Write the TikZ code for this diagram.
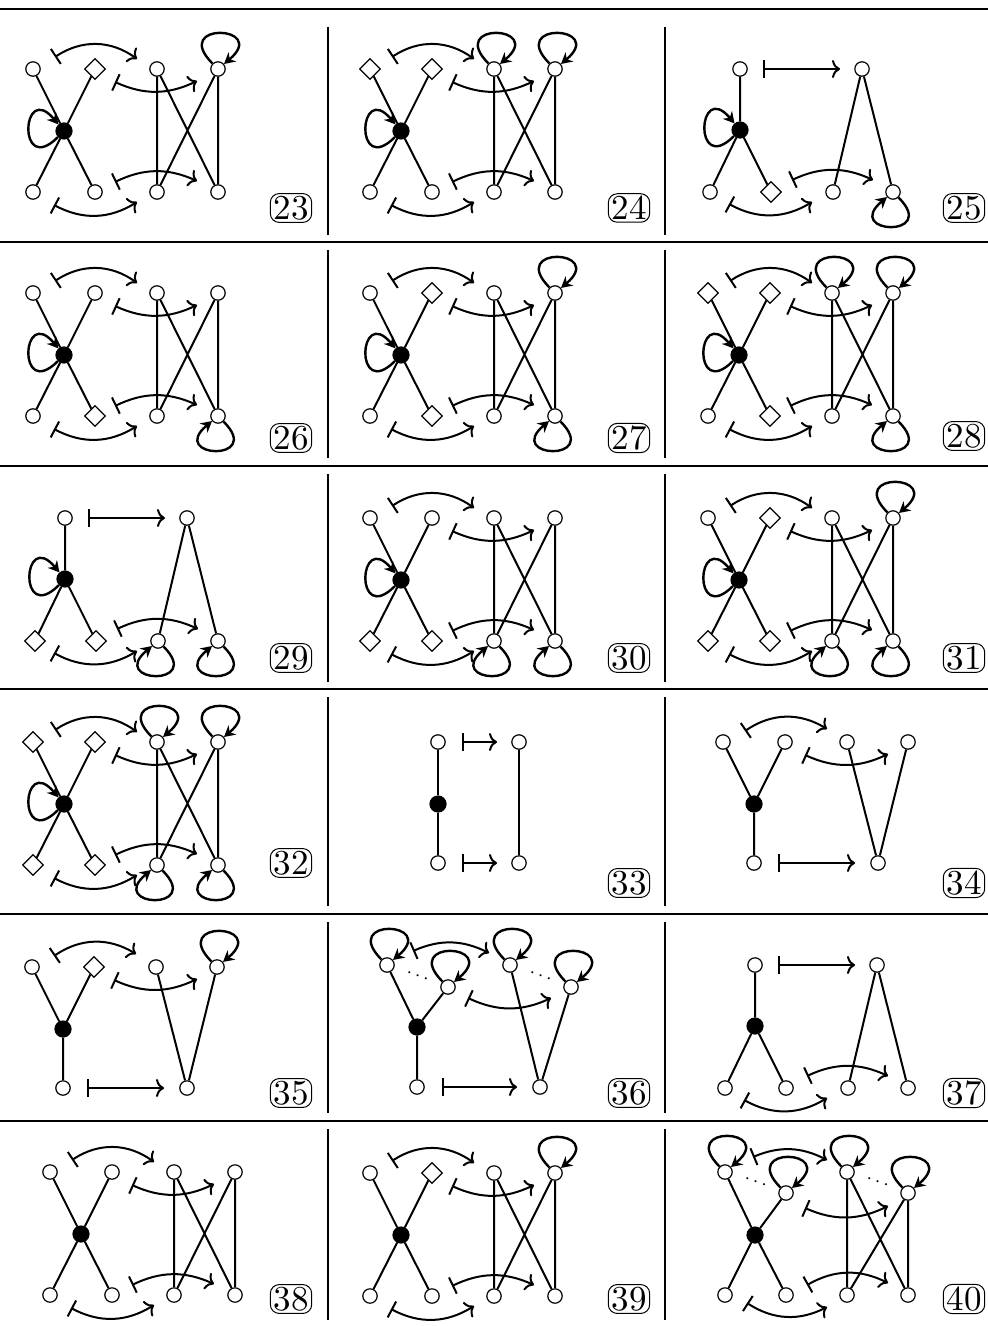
\documentclass[tikz,border=0pt]{standalone}
\usepackage{graphicx}
\usepackage{tikz}
\usetikzlibrary{arrows.meta,shapes.geometric}
\tikzset{
  vx/.style={circle,draw,fill=white,line width=0.6pt,minimum size=7.2pt,inner sep=0pt},
  bk/.style={circle,draw,fill=black,line width=0.6pt,minimum size=8pt,inner sep=0pt},
  dm/.style={diamond,draw,fill=white,line width=0.6pt,minimum size=10.5pt,inner sep=0pt},
  ed/.style={line width=1pt},
  mt/.style={line width=1pt,{Bar[width=9pt]}-{Computer Modern Rightarrow[length=4pt,width=9pt]}},
  lp/.style={line width=1.2pt,-{Stealth[length=5.5pt,width=6pt]}},
  lpw/.style={out=225,in=130,min distance=29pt},
  lpn/.style={out=135,in=40,min distance=30pt},
  lps/.style={out=-45,in=-140,min distance=29pt},
  ell/.style={inner sep=0pt,font=\normalsize},
  num/.style={draw,rounded corners=4.5pt,line width=0.5pt,inner xsep=1.6pt,inner ysep=1.2pt},
  rule/.style={line width=1.3pt},
}
\newcommand{\nm}[1]{\scalebox{1.75}{#1}}
% two X-shaped halves, left outer vertices given by style
\newcommand{\Xgraph}[4]{%
  \node[#1] (a) at (0,0) {};
  \node[#2] (b) at (62,0) {};
  \node[bk] (c) at (31,-62) {};
  \node[#3] (d) at (0,-123) {};
  \node[#4] (e) at (62,-123) {};
  \node[vx] (f) at (124,0) {};
  \node[vx] (g) at (185,0) {};
  \node[vx] (h) at (124,-123) {};
  \node[vx] (i) at (185,-123) {};
  \draw[ed] (a) -- (c) -- (e) (b) -- (c) -- (d) (f) -- (h) -- (g) -- (i) -- (f);
  \draw[mt] ([shift={(22,12)}]a.center) to[bend left=35] ([shift={(-20,10)}]f.center);
  \draw[mt] ([shift={(20,-13)}]b.center) to[bend right=25] ([shift={(-21,-12)}]g.center);
  \draw[mt] ([shift={(20,10)}]e.center) to[bend left=25] ([shift={(-21,11)}]i.center);
  \draw[mt] ([shift={(21,-13)}]d.center) to[bend right=30] ([shift={(-20,-10)}]h.center);
}
% one vertex on top, two below
\newcommand{\Ygraph}[2]{%
  \node[vx] (t) at (30,0) {};
  \node[bk] (c) at (30,-61) {};
  \node[#1] (d) at (0,-123) {};
  \node[#2] (e) at (61,-123) {};
  \node[vx] (u) at (152,0) {};
  \node[vx] (h) at (123,-123) {};
  \node[vx] (i) at (183,-123) {};
  \draw[ed] (t) -- (c) -- (d) (c) -- (e) (h) -- (u) -- (i);
  \draw[mt] ([xshift=11.5pt]t.center) -- ([xshift=-11pt]u.center);
  \draw[mt] ([shift={(21,12)}]e.center) to[bend left=25] ([shift={(-20,12)}]i.center);
  \draw[mt] ([shift={(19,-12)}]d.center) to[bend right=30] ([shift={(-21,-10)}]h.center);
}
% two vertices on top, one below
\newcommand{\Vgraph}[1]{%
  \node[vx] (a) at (0,0) {};
  \node[#1] (b) at (62,0) {};
  \node[bk] (c) at (31,-62) {};
  \node[vx] (d) at (31,-121) {};
  \node[vx] (f) at (124,0) {};
  \node[vx] (g) at (185,0) {};
  \node[vx] (h) at (155,-121) {};
  \draw[ed] (a) -- (c) -- (d) (b) -- (c) (f) -- (h) -- (g);
  \draw[mt] ([shift={(22,11)}]a.center) to[bend left=33] ([shift={(-20,13)}]f.center);
  \draw[mt] ([shift={(20,-13)}]b.center) to[bend right=25] ([shift={(-20,-12)}]g.center);
  \draw[mt] ([xshift=12pt]d.center) -- ([xshift=-11.5pt]h.center);
}

\begin{document}
\begin{tikzpicture}[x=0.5pt,y=0.5pt]
  \useasboundingbox (0,0) rectangle (988,-1326);
  \fill[white] (0,0) rectangle (988,-1326);
  \foreach \y in {9,242,466,689,914,1121} \draw[rule] (0,-\y) -- (988,-\y);
  \foreach \t/\b in {27/235,250/458,474/682,697/906,922/1113,1129/1320}
    \draw[rule] (328,-\t) -- (328,-\b) (665,-\t) -- (665,-\b);

  % 23
  \begin{scope}[shift={(33,-69)}]
    \Xgraph{vx}{dm}{vx}{vx}
    \draw[lp] (c) to[lpw] (c);
    \draw[lp] (g) to[lpn] (g);
  \end{scope}
  \node[num] (n23) at (291,-208) {\nm{23}};
  % 24
  \begin{scope}[shift={(370,-69)}]
    \Xgraph{dm}{dm}{vx}{vx}
    \draw[lp] (c) to[lpw] (c);
    \draw[lp] (f) to[lpn] (f);
    \draw[lp] (g) to[lpn] (g);
  \end{scope}
  \node[num] (n24) at (629,-208) {\nm{24}};
  % 25
  \begin{scope}[shift={(710,-69)}]
    \Ygraph{vx}{dm}
    \draw[lp] (c) to[lpw] (c);
    \draw[lp] (i) to[lps] (i);
  \end{scope}
  \node[num] (n25) at (964,-208) {\nm{25}};

  % 26
  \begin{scope}[shift={(33,-293)}]
    \Xgraph{vx}{vx}{vx}{dm}
    \draw[lp] (c) to[lpw] (c);
    \draw[lp] (i) to[lps] (i);
  \end{scope}
  \node[num] (n26) at (291,-438) {\nm{26}};
  % 27
  \begin{scope}[shift={(370,-293)}]
    \Xgraph{vx}{dm}{vx}{dm}
    \draw[lp] (c) to[lpw] (c);
    \draw[lp] (g) to[lpn] (g);
    \draw[lp] (i) to[lps] (i);
  \end{scope}
  \node[num] (n27) at (629,-438) {\nm{27}};
  % 28
  \begin{scope}[shift={(708,-293)}]
    \Xgraph{dm}{dm}{vx}{dm}
    \draw[lp] (c) to[lpw] (c);
    \draw[lp] (f) to[lpn] (f);
    \draw[lp] (g) to[lpn] (g);
    \draw[lp] (i) to[lps] (i);
  \end{scope}
  \node[num] (n28) at (964,-436) {\nm{28}};

  % 29
  \begin{scope}[shift={(35,-518)}]
    \Ygraph{dm}{dm}
    \draw[lp] (c) to[lpw] (c);
    \draw[lp] (h) to[lps] (h);
    \draw[lp] (i) to[lps] (i);
  \end{scope}
  \node[num] (n29) at (291,-658) {\nm{29}};
  % 30
  \begin{scope}[shift={(370,-518)}]
    \Xgraph{vx}{vx}{dm}{dm}
    \draw[lp] (c) to[lpw] (c);
    \draw[lp] (h) to[lps] (h);
    \draw[lp] (i) to[lps] (i);
  \end{scope}
  \node[num] (n30) at (629,-658) {\nm{30}};
  % 31
  \begin{scope}[shift={(708,-518)}]
    \Xgraph{vx}{dm}{dm}{dm}
    \draw[lp] (c) to[lpw] (c);
    \draw[lp] (g) to[lpn] (g);
    \draw[lp] (h) to[lps] (h);
    \draw[lp] (i) to[lps] (i);
  \end{scope}
  \node[num] (n31) at (964,-658) {\nm{31}};

  % 32
  \begin{scope}[shift={(33,-742)}]
    \Xgraph{dm}{dm}{dm}{dm}
    \draw[lp] (c) to[lpw] (c);
    \draw[lp] (f) to[lpn] (f);
    \draw[lp] (g) to[lpn] (g);
    \draw[lp] (h) to[lps] (h);
    \draw[lp] (i) to[lps] (i);
  \end{scope}
  \node[num] (n32) at (291,-863) {\nm{32}};
  % 33
  \begin{scope}[shift={(438,-742)}]
    \node[vx] (t) at (0,0) {};
    \node[bk] (c) at (0,-62) {};
    \node[vx] (d) at (0,-121) {};
    \node[vx] (u) at (81,0) {};
    \node[vx] (h) at (81,-121) {};
    \draw[ed] (t) -- (c) -- (d) (u) -- (h);
    \draw[mt] ([xshift=12pt]t.center) -- ([xshift=-11pt]u.center);
    \draw[mt] ([xshift=12pt]d.center) -- ([xshift=-11pt]h.center);
  \end{scope}
  \node[num] (n33) at (629,-883) {\nm{33}};
  % 34
  \begin{scope}[shift={(723,-742)}]
    \Vgraph{vx}
  \end{scope}
  \node[num] (n34) at (964,-883) {\nm{34}};

  % 35
  \begin{scope}[shift={(32,-967)}]
    \Vgraph{dm}
    \draw[lp] (g) to[lpn] (g);
  \end{scope}
  \node[num] (n35) at (291,-1093) {\nm{35}};
  % 36
  \begin{scope}[shift={(387,-965)}]
    \node[vx] (a) at (0,0) {};
    \node[vx] (b) at (61,-22) {};
    \node[bk] (c) at (30,-62) {};
    \node[vx] (d) at (30,-122) {};
    \node[vx] (f) at (123,0) {};
    \node[vx] (g) at (184,-22) {};
    \node[vx] (h) at (153,-122) {};
    \draw[ed] (a) -- (c) -- (d) (b) -- (c) (f) -- (h) -- (g);
    \path (a) -- node[ell,sloped] {$\cdots$} (b) (f) -- node[ell,sloped] {$\cdots$} (g);
    \foreach \v in {a,b,f,g} \draw[lp] (\v) to[lpn] (\v);
    \draw[mt] ([shift={(26,14)}]a.center) to[bend left=25] ([shift={(-21,12)}]f.center);
    \draw[mt] ([shift={(20,-11)}]b.center) to[bend right=25] ([shift={(-20,-11)}]g.center);
    \draw[mt] ([xshift=12.5pt]d.center) -- ([xshift=-11.5pt]h.center);
  \end{scope}
  \node[num] (n36) at (629,-1093) {\nm{36}};
  % 37
  \begin{scope}[shift={(725,-965)}]
    \Ygraph{vx}{vx}
  \end{scope}
  \node[num] (n37) at (964,-1093) {\nm{37}};

  % 38
  \begin{scope}[shift={(50,-1172)}]
    \Xgraph{vx}{vx}{vx}{vx}
  \end{scope}
  \node[num] (n38) at (291,-1299) {\nm{38}};
  % 39
  \begin{scope}[shift={(370,-1173)}]
    \Xgraph{vx}{dm}{vx}{vx}
    \draw[lp] (g) to[lpn] (g);
  \end{scope}
  \node[num] (n39) at (629,-1299) {\nm{39}};
  % 40
  \begin{scope}[shift={(725,-1172)}]
    \node[vx] (a) at (0,0) {};
    \node[vx] (b) at (61,-21) {};
    \node[bk] (c) at (30,-63) {};
    \node[vx] (d) at (0,-123) {};
    \node[vx] (e) at (61,-123) {};
    \node[vx] (f) at (122,0) {};
    \node[vx] (g) at (183,-21) {};
    \node[vx] (h) at (122,-123) {};
    \node[vx] (i) at (183,-123) {};
    \draw[ed] (a) -- (c) -- (e) (b) -- (c) -- (d) (f) -- (h) -- (g) -- (i) -- (f);
    \path (a) -- node[ell,sloped] {$\cdots$} (b) (f) -- node[ell,sloped] {$\cdots$} (g);
    \foreach \v in {a,b,f,g} \draw[lp] (\v) to[lpn] (\v);
    \draw[mt] ([shift={(28,15)}]a.center) to[bend left=25] ([shift={(-20,12)}]f.center);
    \draw[mt] ([shift={(19,-15)}]b.center) to[bend right=25] ([shift={(-20,-13)}]g.center);
    \draw[mt] ([shift={(21,10)}]e.center) to[bend left=28] ([shift={(-20,12)}]i.center);
    \draw[mt] ([shift={(22,-8)}]d.center) to[bend right=30] ([shift={(-20,-12)}]h.center);
  \end{scope}
  \node[num] (n40) at (964,-1299) {\nm{40}};
\end{tikzpicture}
\end{document}
